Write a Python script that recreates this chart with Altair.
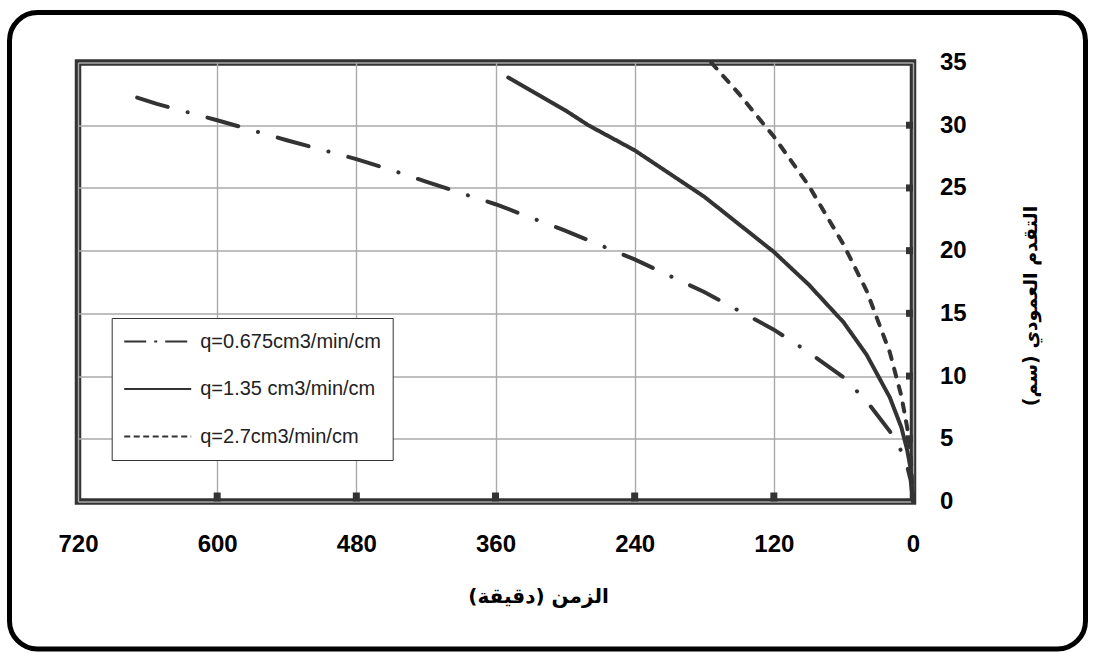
import altair as alt
import pandas as pd

# ---- data ----
labels = ["q=0.675cm3/min/cm", "q=1.35 cm3/min/cm", "q=2.7cm3/min/cm"]

t_a = [669, 652, 600, 540, 480, 449, 420, 360, 300, 240, 180, 120, 90, 60, 40, 20, 10, 5, 2, 0]
v_a = [32.2, 31.7, 30.4, 28.8, 27.3, 26.4, 25.5, 23.7, 21.6, 19.3, 16.7, 13.7, 11.9, 9.9, 8.0, 5.6, 4.0, 2.8, 1.7, 0.0]

t_b = [349, 300, 280, 240, 180, 120, 90, 60, 40, 20, 10, 5, 2, 0]
v_b = [33.8, 31.2, 30.0, 28.0, 24.3, 19.9, 17.3, 14.3, 11.7, 8.3, 5.9, 4.1, 2.6, 0.0]

t_c = [174, 150, 128, 120, 90, 60, 40, 20, 10, 5, 2, 0]
v_c = [35.0, 32.5, 30.0, 29.1, 25.2, 20.5, 16.8, 11.9, 8.4, 5.9, 3.7, 0.0]

x_ticks = [0, 120, 240, 360, 480, 600, 720]
y_ticks = [0, 5, 10, 15, 20, 25, 30, 35]
x_inner = [120, 240, 360, 480, 600]
y_inner = [5, 10, 15, 20, 25, 30]

x_title = "\u200Fالزمن (دقيقة)\u200F"
y_title = "\u200Fالتقدم العمودي (سم)\u200F"

# line styles (plot) and legend-sample styles
plot_dash = [[32, 20.5, 0.1, 20.5], [1, 0], [8, 10]]
legend_dash = [[22, 8, 3, 8], [1, 0], [6, 3.5]]

# ---- tables ----
rows = []
for lab, ts, vs in zip(labels, [t_a, t_b, t_c], [v_a, v_b, v_c]):
    for t, v in zip(ts, vs):
        rows.append({"t": t, "v": v, "series": lab})
df = pd.DataFrame(rows)

W, H = 835, 439
INK = "#333333"

xscale = alt.Scale(domain=[0, 720], reverse=True, nice=False, zero=False)
yscale = alt.Scale(domain=[0, 35], nice=False)

xaxis = alt.Axis(
    values=x_ticks, title=x_title, grid=True, gridColor="#aaaaaa", gridWidth=1.4,
    domain=False, ticks=False, tickSize=0, labelFlush=False, labelOverlap=False,
    labelFont="Liberation Sans", labelFontSize=24, labelFontWeight="bold", labelColor="black",
    labelPadding=31,
    titleFont="DejaVu Sans", titleFontSize=20, titleFontWeight="bold", titleColor="black",
    titleX=460, titleY=95, titleAlign="center", titleBaseline="middle", titleAngle=0,
)
yaxis = alt.Axis(
    orient="right", values=y_ticks, title=y_title, grid=True, gridColor="#aaaaaa", gridWidth=1.4,
    domain=False, ticks=False, tickSize=0, labelFlush=False, labelOverlap=False,
    labelFont="Liberation Sans", labelFontSize=24, labelFontWeight="bold", labelColor="black",
    labelPadding=26.5,
    titleFont="DejaVu Sans", titleFontSize=19, titleFontWeight="bold", titleColor="black",
    titleX=117.5, titleY=243, titleAlign="center", titleBaseline="middle", titleAngle=270,
)

x_enc = alt.X("t:Q", scale=xscale, axis=xaxis)
y_enc = alt.Y("v:Q", scale=yscale, axis=yaxis)

frame = alt.Chart(pd.DataFrame({"k": [0]})).mark_rect(
    filled=False, stroke="black", strokeWidth=5, cornerRadius=28
).encode(
    x=alt.value(-68.5), x2=alt.value(1007.5), y=alt.value(-50), y2=alt.value(586.5)
)

# visible curves, one layer per series with its own dash pattern
curve_layers = []
for lab, dash in zip(labels, plot_dash):
    curve_layers.append(
        alt.Chart(df[df["series"] == lab]).mark_line(
            color=INK, strokeWidth=4, strokeCap="round", strokeDash=dash
        ).encode(x=x_enc, y=y_enc)
    )

# invisible layer that only drives the legend (short sample patterns as in the reference)
legend_layer = alt.Chart(df).mark_line(color=INK, opacity=0).encode(
    x=x_enc,
    y=y_enc,
    strokeDash=alt.StrokeDash(
        "series:N",
        scale=alt.Scale(domain=labels, range=legend_dash),
        legend=alt.Legend(
            title=None, orient="none", legendX=33.7, legendY=255.5, direction="vertical",
            symbolType="stroke", symbolSize=4489, symbolStrokeWidth=2, symbolStrokeColor=INK,
            symbolOpacity=1,
            labelFont="Liberation Sans", labelFontSize=20, labelColor="#222222", labelOffset=8,
            labelLimit=400, padding=11.5, rowPadding=23.5, clipHeight=24,
            strokeColor=INK, fillColor="white",
        ),
    ),
)

xt = alt.Chart(pd.DataFrame({"t": x_inner})).mark_rule(color=INK, strokeWidth=7).encode(
    x=x_enc, y=alt.value(H), y2=alt.value(H - 9)
)
yt = alt.Chart(pd.DataFrame({"v": y_inner})).mark_rule(color=INK, strokeWidth=7).encode(
    y=y_enc, x=alt.value(W), x2=alt.value(W - 7)
)

chart = alt.layer(frame, *curve_layers, legend_layer, xt, yt).properties(
    width=W, height=H,
    autosize=alt.AutoSizeParams(type="none"),
    padding={"left": 78, "top": 62.5, "right": 182, "bottom": 151.5},
    background="white",
).configure_view(stroke=INK, strokeWidth=6.5)

chart.save("out.html", embed_options={"renderer": "svg", "actions": False})
